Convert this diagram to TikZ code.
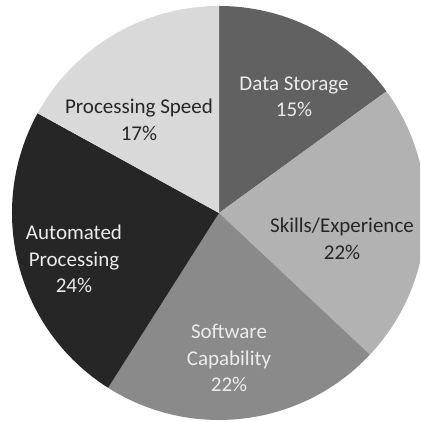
\documentclass[tikz,border=0pt]{standalone}
\usepackage{fontspec}
\setmainfont{Carlito}
\definecolor{storagegray}{HTML}{616161}
\definecolor{skillsgray}{HTML}{B2B2B2}
\definecolor{softwaregray}{HTML}{8A8A8A}
\definecolor{automatedgray}{HTML}{262626}
\definecolor{speedgray}{HTML}{D9D9D9}
\begin{document}
\begin{tikzpicture}
  [x=1pt,y=1pt,every node/.style={align=center,font=\fontsize{21}{26.5}\selectfont},
   darklabel/.style={text=automatedgray},lightlabel/.style={text=white!92!black}]
  \useasboundingbox (0,0) rectangle (420,422);
  \clip (0,0) rectangle (420,422);

  \coordinate (c) at (219,209);
  \foreach \from/\to/\shade in {90/36/storagegray,36/-43.2/skillsgray,-43.2/-122.4/softwaregray,-122.4/-208.8/automatedgray,151.2/90/speedgray}
    \fill[\shade] (c) -- ++(\from:207pt) arc[start angle=\from, end angle=\to, radius=207pt] -- cycle;

  \node[lightlabel] (ds) at (294,325) {Data Storage\\15\%};
  \node[darklabel] (se) at (342,183) {Skills/Experience\\22\%};
  \node[lightlabel] (sc) at (229,64) {Software\\Capability\\22\%};
  \node[lightlabel] (ap) at (74,163) {Automated\\Processing\\24\%};
  \node[darklabel] (ps) at (139,302) {Processing Speed\\17\%};
\end{tikzpicture}
\end{document}
